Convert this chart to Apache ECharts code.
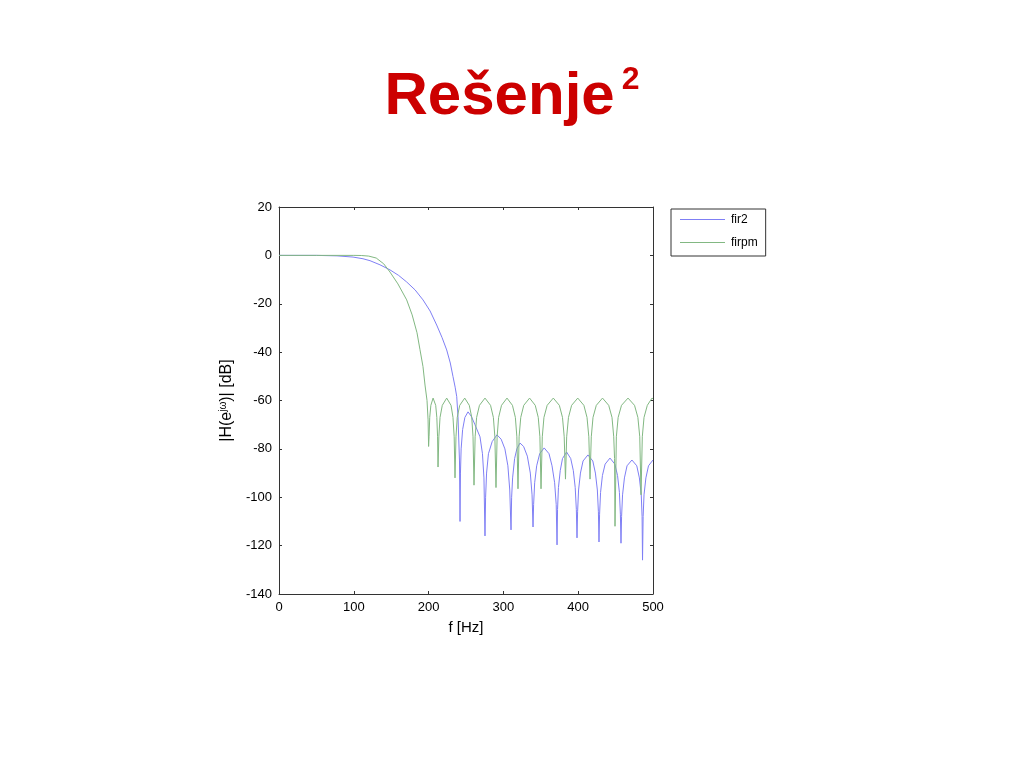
<!DOCTYPE html>
<html>
<head>
<meta charset="utf-8">
<script src="https://cdn.jsdelivr.net/npm/echarts@6/dist/echarts.min.js"></script>
<style>
html,body{margin:0;padding:0;background:#fff;}
#chart{width:1024px;height:768px;}
</style>
</head>
<body>
<div id="chart"></div>
<script>
// Tick values
const xTicks = [0, 100, 200, 300, 400, 500];
const yTicks = [-140, -120, -100, -80, -60, -40, -20, 0, 20];

// fir2 response (blue)
const fir2Freq = [0, 50, 77.5, 99, 112.3, 121.7, 135, 148.4, 160, 170.7, 182, 192.5, 202, 210.8, 218, 224.2, 229, 232.6, 235.5, 237.6, 239.3, 241.3, 242,
  242.6, 243.5, 245.5, 248.5, 252.7, 257, 262, 268.7, 272, 274, 275.4,
  276.2, 277.5, 280, 285, 291.4, 297, 302, 306, 308.5, 310.2,
  311, 312.3, 315, 318, 322.2, 327, 332, 336, 338.3, 339.6,
  340.4, 341.8, 344.5, 348.5, 354.5, 361, 365, 368.5, 370.6, 371.7,
  372.4, 373.6, 376, 379, 384.5, 390, 393.5, 396, 397.5, 398.4,
  399.2, 400.5, 403, 406.5, 413, 419.5, 423, 425.6, 427, 427.8,
  428.6, 429.9, 432.4, 436, 442.5, 449, 452.6, 455.1, 456.4, 457.2,
  458, 459.3, 461.8, 465.3, 471.8, 478.3, 481.8, 484.3, 485.4, 486,
  486.8, 488, 490.5, 494, 500];
const fir2Db = [0, 0, -0.2, -0.7, -1.4, -2.2, -3.9, -6.0, -8.3, -11.0, -14.3, -18.4, -23, -28.8, -34, -39.1, -44.5, -50.1, -54.5, -58.4, -66.7, -85, -110,
  -90, -80, -72, -67, -64.7, -66.5, -70, -75, -82, -92, -116,
  -100, -90, -82, -77, -74.2, -76, -80, -87, -97, -113.5,
  -100, -92, -84, -80, -77.6, -79, -83, -90, -99, -112.3,
  -103, -94, -87, -82, -79.6, -82, -87, -94, -103, -119.7,
  -105, -96, -89, -84, -81.3, -84, -89, -96, -105, -116.8,
  -106, -97, -90, -85, -82.5, -85, -90, -97, -106, -118.5,
  -107, -98, -91, -86.3, -83.8, -86.3, -91, -98, -107, -119,
  -108, -99, -92, -87, -84.6, -87, -92, -99, -108, -126,
  -108, -99, -92, -87, -84.6];

// firpm response (green)
const firpmFreq = [0, 50, 100, 110, 120, 130, 140, 148.4, 159, 170.7, 178, 184.5, 188.5, 192.5, 195.2, 197.9, 199.3, 200,
  200.6, 201.5, 203, 206, 209.5, 211, 212, 212.6,
  213.7, 215.3, 218.3, 224.2, 230, 232.6, 234.2, 235.3,
  236.6, 238.3, 241.6, 248.3, 254.4, 257.7, 259.4, 260.7,
  262.2, 264.2, 268, 275.4, 282.8, 286.6, 288.6, 290.1,
  291.6, 293.6, 297.5, 304.8, 312.1, 316, 318, 319.5,
  321, 323.2, 327.2, 335, 342.6, 346.6, 348.8, 350.3,
  352, 354.2, 358.5, 366.7, 374.8, 379, 381.3, 383,
  384.6, 387, 391.2, 399.4, 407.6, 411.8, 414.2, 415.8,
  417.5, 419.8, 424.2, 432.5, 440.8, 445.2, 447.5, 448.6, 449.2,
  451, 453.4, 457.9, 466.6, 475.3, 479.8, 482.3, 484,
  485.7, 488, 492.4, 498.7, 500];
const firpmDb = [0, 0, 0, -0.05, -0.3, -1.1, -3.5, -6.9, -11.8, -18.4, -24.6, -32, -39, -46, -53.6, -60, -68, -79,
  -75, -67, -62, -59, -62, -67, -75, -87.5,
  -75, -67, -62, -59, -62, -67, -75, -92,
  -75, -67, -62, -59, -62, -67, -75, -95,
  -75, -67, -62, -59, -62, -67, -75, -96,
  -75, -67, -62, -59, -62, -67, -75, -96.5,
  -75, -67, -62, -59, -62, -67, -75, -96.5,
  -75, -67, -62, -59, -62, -67, -75, -92.5,
  -75, -67, -62, -59, -62, -67, -75, -92.5,
  -75, -67, -62, -59, -62, -67, -75, -84, -112,
  -75, -67, -62, -59, -62, -67, -75, -99,
  -75, -67, -62, -59, -59.3];

const seriesNames = ['fir2', 'firpm'];

const FONT = '"Liberation Sans", Arial, sans-serif';
const zip = (xs, ys) => xs.map((x, i) => [x, ys[i]]);

const chart = echarts.init(document.getElementById('chart'), null, {renderer: 'canvas'});

const axisCommon = {
  axisLine: {show: true, onZero: false, lineStyle: {color: '#333', width: 1}},
  axisTick: {show: true, inside: true, length: 3, lineStyle: {color: '#333'}},
  splitLine: {show: false}
};

chart.setOption({
  backgroundColor: '#fff',
  animation: false,
  title: {
    text: '{a|Rešenje}{b|2}',
    left: 'center',
    top: 59,
    textStyle: {
      rich: {
        a: {fontSize: 60, fontWeight: 'bold', color: '#cc0000', fontFamily: FONT, lineHeight: 66},
        b: {fontSize: 32, fontWeight: 'bold', color: '#cc0000', fontFamily: FONT, verticalAlign: 'top', lineHeight: 66, padding: [0, 0, 22, 7]}
      }
    }
  },
  legend: {
    data: seriesNames,
    orient: 'vertical',
    left: 671,
    top: 209,
    padding: [4, 8, 7, 9],
    itemGap: 10,
    itemWidth: 45,
    itemHeight: 1,
    icon: 'rect',
    borderColor: '#333',
    borderWidth: 1,
    borderRadius: 0,
    textStyle: {fontFamily: FONT, fontSize: 12, color: '#000', lineHeight: 13, padding: [0, 0, 0, 1]}
  },
  grid: {left: 279, right: 371, top: 207, bottom: 174, containLabel: false},
  xAxis: [
    Object.assign({}, axisCommon, {
      type: 'value', min: 0, max: 500, interval: 100, position: 'bottom',
      name: 'f [Hz]', nameLocation: 'middle', nameGap: 26,
      nameTextStyle: {fontFamily: FONT, fontSize: 15, color: '#000'},
      axisLabel: {fontFamily: FONT, fontSize: 13, color: '#000', margin: 7,
        formatter: v => xTicks.includes(v) ? String(v) : ''}
    }),
    Object.assign({}, axisCommon, {
      type: 'value', min: 0, max: 500, interval: 100, position: 'top',
      axisLabel: {show: false}
    })
  ],
  yAxis: [
    Object.assign({}, axisCommon, {
      type: 'value', min: -140, max: 20, interval: 20, position: 'left',
      name: '|H(e{s|jω})| [dB]', nameLocation: 'middle', nameGap: 44,
      nameTextStyle: {fontFamily: FONT, fontSize: 16, color: '#000',
        rich: {s: {fontFamily: FONT, fontSize: 10, color: '#000', verticalAlign: 'top', padding: [0, 0, 7, 0]}}},
      axisLabel: {fontFamily: FONT, fontSize: 13, color: '#000', margin: 7,
        formatter: v => yTicks.includes(v) ? String(v) : ''}
    }),
    Object.assign({}, axisCommon, {
      type: 'value', min: -140, max: 20, interval: 20, position: 'right',
      axisLabel: {show: false}
    })
  ],
  series: [
    {
      name: seriesNames[0], type: 'line', xAxisIndex: 0, yAxisIndex: 0,
      data: zip(fir2Freq, fir2Db),
      showSymbol: false, smooth: false,
      color: '#7f7ff5',
      lineStyle: {width: 1, color: '#7f7ff5'}
    },
    {
      name: seriesNames[1], type: 'line', xAxisIndex: 0, yAxisIndex: 0,
      data: zip(firpmFreq, firpmDb),
      showSymbol: false, smooth: false,
      color: '#82b882',
      lineStyle: {width: 1, color: '#82b882'}
    }
  ]
});
</script>
</body>
</html>
